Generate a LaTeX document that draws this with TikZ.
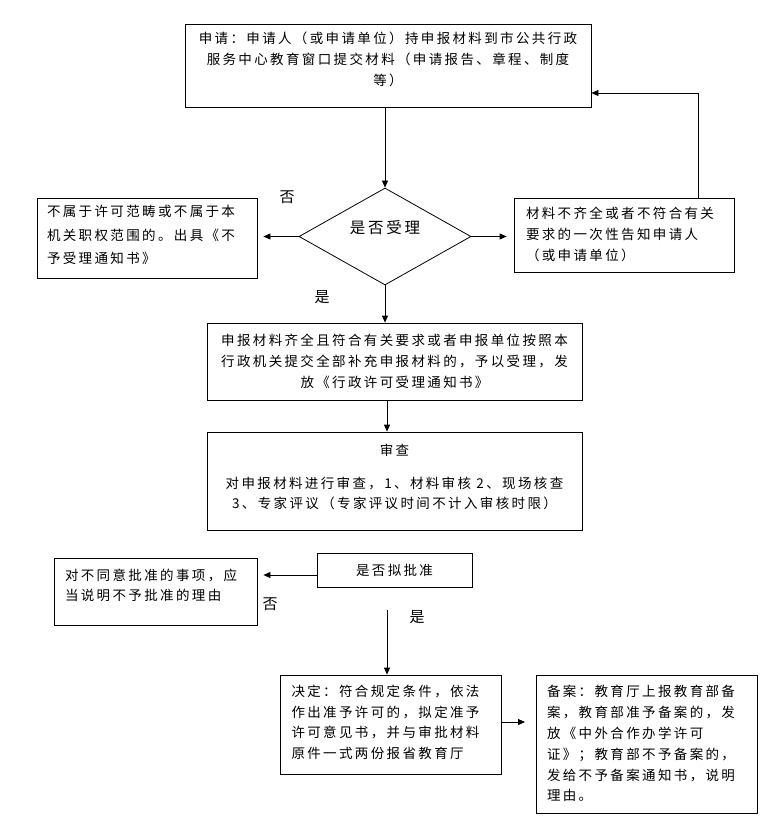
\documentclass[tikz,border=0pt]{standalone}
\usepackage{fontspec}
\setmainfont{Noto Sans CJK SC}
\newfontfamily\cjk[LetterSpace=17.5]{Noto Sans CJK SC}
\usetikzlibrary{shapes.geometric,arrows.meta,calc}
\newcommand\btxt[3]{\begin{minipage}[c][#2][t]{#1}#3\end{minipage}}
\newcommand\fst[1]{\rule{0pt}{#1}}
\begin{document}
\begin{tikzpicture}[x=1pt,y=-1pt,
  box/.style={draw,line width=0.8pt,inner ysep=0pt,inner xsep=0pt,font=\cjk},
  arr/.style={line width=0.8pt,-{Triangle[length=7pt,width=6pt]}},
  lab/.style={font=\cjk\fontsize{15}{17}\selectfont,inner sep=0pt}]
\fill[white] (0,0) rectangle (777,837);
\path[use as bounding box] (0,0) rectangle (777,837);

\node[box] (top) at (388,65.5) {\btxt{406pt}{83pt}{\centering\fontsize{13.5}{21}\selectfont\fst{19.3pt}申请：申请人（或申请单位）持申报材料到市公共行政\\服务中心教育窗口提交材料（申请报告、章程、制度\\等）\par}};

\node[draw,line width=0.8pt,shape=diamond,inner sep=0pt,minimum width=172pt,minimum height=97pt,
  label={[font=\cjk\fontsize{15.5}{17}\selectfont,yshift=9pt]center:是否受理}] (dia) at (385,236.5) {};

\node[box,inner xsep=10pt] (left) at (147,238) {\btxt{200pt}{80pt}{\raggedright\fontsize{13.5}{23.3}\selectfont\fst{18.8pt}不属于许可范畴或不属于本\\机关职权范围的。出具《不\\予受理通知书》\par}};

\node[box,inner xsep=12pt] (right) at (624,235) {\btxt{196pt}{74pt}{\raggedright\fontsize{13.5}{21}\selectfont\fst{20.1pt}材料不齐全或者不符合有关\\要求的一次性告知申请人\\（或申请单位）\par}};

\node[box] (acc) at (394.5,361.5) {\btxt{375pt}{77pt}{\centering\fontsize{13.5}{21}\selectfont\fst{22.1pt}申报材料齐全且符合有关要求或者申报单位按照本\\行政机关提交全部补充申报材料的，予以受理，发\\放《行政许可受理通知书》\par}};

\node[box] (rev) at (394.5,481) {\btxt{375pt}{98pt}{\centering\fontsize{13.5}{20.5}\selectfont\fst{23.1pt}审查\\[12.5pt]对申报材料进行审查，1、材料审核 2、现场核查\\3、专家评议（专家评议时间不计入审核时限）\par}};

\node[box] (ask) at (394.5,570) {\btxt{155pt}{34pt}{\centering\fontsize{13.5}{21}\selectfont\fst{22.1pt}是否拟批准\par}};

\node[box,inner xsep=11pt] (left2) at (155.5,591.5) {\btxt{181pt}{67pt}{\raggedright\fontsize{13.5}{19.5}\selectfont\fst{22.8pt}对不同意批准的事项，应\\当说明不予批准的理由\par}};

\node[box,inner xsep=11.5pt] (dec) at (390.5,724.5) {\btxt{198pt}{99pt}{\raggedright\fontsize{13.5}{20.5}\selectfont\fst{21.8pt}决定：符合规定条件，依法\\作出准予许可的，拟定准予\\许可意见书，并与审批材料\\原件一式两份报省教育厅\par}};

\node[box,inner xsep=11pt] (bei) at (646.5,744) {\btxt{199pt}{138pt}{\raggedright\fontsize{13.5}{20.8}\selectfont\fst{21.8pt}备案：教育厅上报教育部备\\案，教育部准予备案的，发\\放《中外合作办学许可\\证》；教育部不予备案的，\\发给不予备案通知书，说明\\理由。\par}};

% labels
\node[lab] (no1) at (287,197) {否};
\node[lab] (yes1) at (322,297) {是};
\node[lab] (no2) at (270,604) {否};
\node[lab] (yes2) at (417,617) {是};

% coordinates
\coordinate (fb) at (698,93);
\coordinate (ay) at (0,575);
\coordinate (ys) at (387,610);
\coordinate (ar) at (525,722);

% connectors
\draw[arr] (top.south -| dia.north) -- (dia.north);
\draw[arr,shorten >=6pt] (dia.west) -- (left.east |- dia.west);
\draw[arr,shorten >=7pt] (dia.east) -- (right.west |- dia.east);
\draw[arr] (right.north -| fb) |- (top.east |- fb);
\draw[arr] (dia.south) -- (acc.north -| dia.south);
\draw[arr] (acc.south -| ys) -- (rev.north -| ys);
\draw[arr,shorten >=6pt] (ask.west |- ay) -- (left2.east |- ay);
\draw[arr] (ys) -- (dec.north -| ys);
\draw[arr] (dec.east |- ar) -- (ar);
\end{tikzpicture}
\end{document}
